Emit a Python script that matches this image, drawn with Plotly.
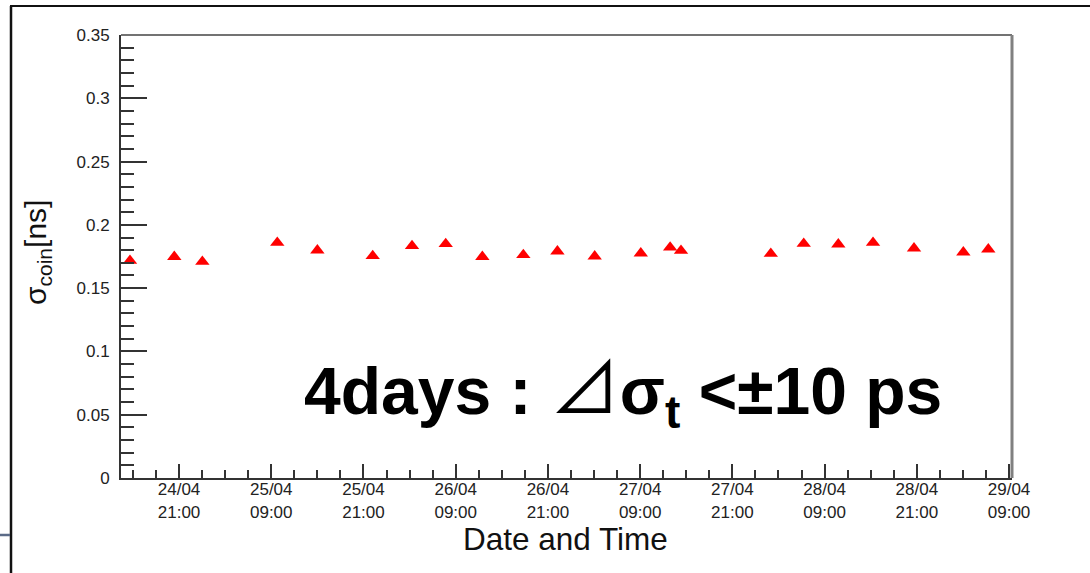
import plotly.graph_objects as go

# ---- data ----
times = [
    "2014-04-24 14:37", "2014-04-24 20:23", "2014-04-25 00:02", "2014-04-25 09:47",
    "2014-04-25 15:00", "2014-04-25 22:12", "2014-04-26 03:19", "2014-04-26 07:42",
    "2014-04-26 12:28", "2014-04-26 17:48", "2014-04-26 22:14", "2014-04-27 03:05",
    "2014-04-27 09:05", "2014-04-27 12:54", "2014-04-27 14:19", "2014-04-28 02:00",
    "2014-04-28 06:17", "2014-04-28 10:47", "2014-04-28 15:18", "2014-04-28 20:38",
    "2014-04-29 03:03", "2014-04-29 06:18",
]
sigma_coin = [
    0.1717, 0.1748, 0.1709, 0.1859, 0.1799, 0.1754, 0.1833, 0.1849,
    0.1748, 0.1762, 0.1791, 0.1751, 0.1775, 0.1822, 0.1796, 0.1772,
    0.1851, 0.1846, 0.1859, 0.1815, 0.1783, 0.1807,
]
y_tick_vals = [0, 0.05, 0.1, 0.15, 0.2, 0.25, 0.3, 0.35]
y_tick_text = ["0", "0.05", "0.1", "0.15", "0.2", "0.25", "0.3", "0.35"]
x_range = ["2014-04-24 13:27", "2014-04-29 09:23"]
x_tick0 = "2014-04-24 21:00"

# ---- layout geometry (pixels) ----
W, H = 1090, 573
L, R, T, B = 121, 1012, 35, 478

def px(x):
    return (x - L) / (R - L)

def py(y):
    return (B - y) / (B - T)

FONT = "Liberation Sans, Arial, Helvetica, sans-serif"

fig = go.Figure()
fig.add_trace(go.Scatter(
    x=times, y=sigma_coin, mode="markers",
    marker=dict(symbol="triangle-up", size=12.5, color="#ff0000", line=dict(width=0)),
    showlegend=False,
))

fig.update_layout(
    width=W, height=H, autosize=False,
    margin=dict(l=L, r=W - R, t=T, b=H - B, pad=0),
    paper_bgcolor="white", plot_bgcolor="white",
    font=dict(family=FONT, color="#222222"),
    xaxis=dict(
        type="date", range=x_range, tick0=x_tick0, dtick=12 * 3600 * 1000,
        tickformat="%d/%m<br>%H:%M", ticks="inside", ticklen=14, tickwidth=1.5,
        tickcolor="#333333", showgrid=False, zeroline=False,
        showline=True, linecolor="#333333", linewidth=2,
        tickfont=dict(size=17, family=FONT, color="#222222"), ticklabelstandoff=-5,
        minor=dict(dtick=3 * 3600 * 1000, tick0=x_tick0, ticks="inside",
                   ticklen=8, tickwidth=1.5, tickcolor="#333333", showgrid=False),
    ),
    yaxis=dict(
        range=[0, 0.35], tickvals=y_tick_vals, ticktext=y_tick_text,
        ticks="inside", ticklen=26, tickwidth=1.5, tickcolor="#333333",
        showgrid=False, zeroline=False, showline=True, linecolor="#333333", linewidth=2,
        tickfont=dict(size=17, family=FONT, color="#222222"), ticklabelstandoff=6,
        minor=dict(dtick=0.01, tick0=0, ticks="inside", ticklen=13, tickwidth=1.5,
                   tickcolor="#333333", showgrid=False),
    ),
)

# frame of the plot: top (thin) and right (thick grey)
fig.add_shape(type="line", xref="paper", yref="paper", x0=0, x1=1, y0=1, y1=1,
              line=dict(color="#444444", width=1.5))
fig.add_shape(type="line", xref="paper", yref="paper", x0=1, x1=1, y0=0, y1=1,
              line=dict(color="#808080", width=3))

# outer slide frame
fig.add_shape(type="line", xref="paper", yref="paper", x0=px(10), x1=px(1090),
              y0=py(6), y1=py(6), line=dict(color="#111111", width=2))
fig.add_shape(type="line", xref="paper", yref="paper", x0=px(11), x1=px(11),
              y0=py(6), y1=py(573), line=dict(color="#111111", width=2.5))
fig.add_shape(type="line", xref="paper", yref="paper", x0=px(0), x1=px(10),
              y0=py(535), y1=py(535), line=dict(color="#5b6b87", width=2.5))

# axis titles
fig.add_annotation(text="σ<sub>coin</sub>[ns]", xref="paper", yref="paper",
                   x=px(37), y=py(253), textangle=-90, showarrow=False,
                   xanchor="center", yanchor="middle",
                   font=dict(size=30, family=FONT, color="#111111"))
fig.add_annotation(text="Date and Time", xref="paper", yref="paper",
                   x=px(565), y=py(539), showarrow=False,
                   xanchor="center", yanchor="middle",
                   font=dict(size=31.5, family=FONT, color="#111111"))

# big statement
fig.add_annotation(
    text=("<b>4days : <span style=\"font-family:Noto Sans CJK JP;font-weight:normal;"
          "font-size:70px\">⊿</span>σ<sub>t</sub> <±10 ps</b>"),
    xref="paper", yref="paper", x=px(623), y=py(385), showarrow=False,
    xanchor="center", yanchor="middle",
    font=dict(size=66, family=FONT, color="#000000"))

fig.write_html("out.html")
